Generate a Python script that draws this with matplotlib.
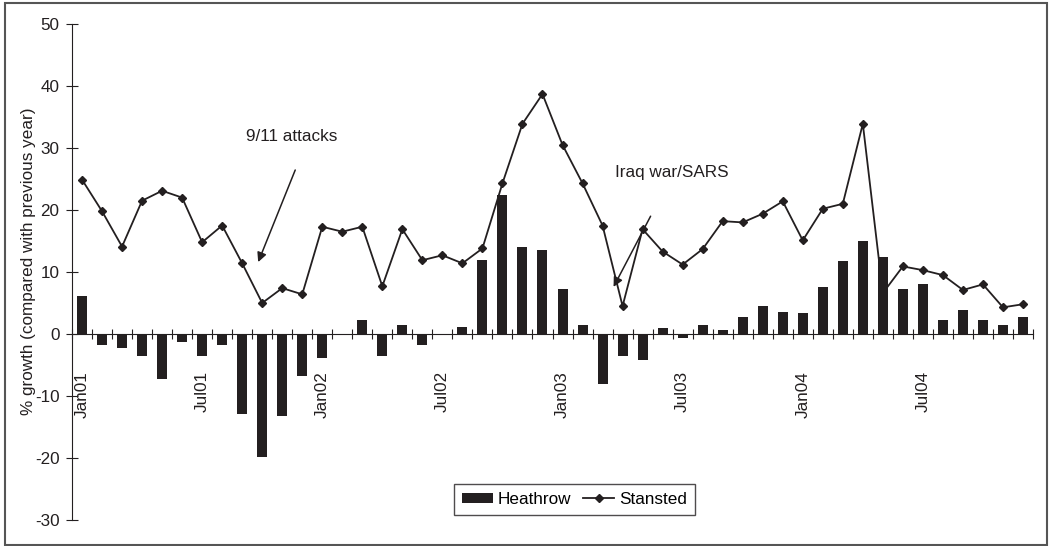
import numpy as np
import matplotlib
matplotlib.use('Agg')
import matplotlib.pyplot as plt
from matplotlib.patches import Rectangle

plt.rcParams['font.family'] = ['Liberation Sans', 'DejaVu Sans']
plt.rcParams['axes.unicode_minus'] = False

# monthly data Jan01 .. Dec04
months = [f'{m}{y:02d}' for y in range(1, 5)
          for m in ['Jan', 'Feb', 'Mar', 'Apr', 'May', 'Jun',
                    'Jul', 'Aug', 'Sep', 'Oct', 'Nov', 'Dec']]

heathrow = [6.1, -1.8, -2.3, -3.5, -7.2, -1.3, -3.5, -1.8, -12.9, -19.9, -13.3, -6.8,
            -3.9, -0.2, 2.3, -3.5, 1.5, -1.8, -0.1, 1.1, 12.0, 22.5, 14.0, 13.6,
            7.2, 1.5, -8.0, -3.6, -4.2, 1.0, -0.6, 1.4, 0.6, 2.7, 4.5, 3.5,
            3.4, 7.6, 11.7, 15.0, 12.5, 7.2, 8.0, 2.2, 3.8, 2.3, 1.4, 2.7]

stansted = [24.9, 19.8, 14.1, 21.5, 23.1, 22.0, 14.8, 17.5, 11.4, 5.0, 7.4, 6.4,
            17.3, 16.5, 17.3, 7.7, 16.9, 11.9, 12.7, 11.4, 13.8, 24.3, 33.9, 38.7,
            30.5, 24.3, 17.5, 4.5, 16.9, 13.3, 11.2, 13.7, 18.2, 18.0, 19.4, 21.4,
            15.1, 20.2, 21.0, 33.9, 6.6, 10.9, 10.3, 9.5, 7.1, 8.0, 4.3, 4.8]

label_months = ['Jan01', 'Jul01', 'Jan02', 'Jul02', 'Jan03', 'Jul03', 'Jan04', 'Jul04']

W, H = 1051, 546
fig = plt.figure(figsize=(W / 100, H / 100), dpi=100)
ax = fig.add_axes([72 / W, 1 - 520 / H, (1033 - 72) / W, (520 - 24) / H])

x = np.arange(len(months))
ink = '#231f20'
bars = ax.bar(x, heathrow, width=0.5, color=ink, label='Heathrow', zorder=3)
line, = ax.plot(x, stansted, color=ink, lw=1.3, marker='D', markersize=4.3,
                label='Stansted', zorder=2)

ax.set_xlim(-0.5, len(months) - 0.5)
ax.set_ylim(-30, 50)
ax.set_yticks(np.arange(-30, 51, 10))

for s in ['top', 'right']:
    ax.spines[s].set_visible(False)
ax.spines['bottom'].set_position(('data', 0))
ax.spines['bottom'].set_color(ink)
ax.spines['left'].set_color(ink)

ax.set_xticks(np.arange(-0.5, len(months), 1.0))
ax.set_xticklabels([])
ax.tick_params(axis='x', which='major', direction='inout', length=7, color=ink)
ax.set_xticks([months.index(m) for m in label_months], label_months, minor=True)
ax.tick_params(axis='x', which='minor', length=0, pad=26.5, labelsize=12.3,
               labelrotation=90, labelcolor=ink)
ax.tick_params(axis='y', direction='inout', length=8, color=ink, pad=5,
               labelsize=12.3, labelcolor=ink)

fig.text(29 / W, 1 - 261 / H, '% growth (compared with previous year)',
         rotation=90, ha='center', va='center', fontsize=12.3, color=ink)

arrow = dict(arrowstyle='-|>', color=ink, lw=1.1, mutation_scale=14,
             shrinkA=0, shrinkB=0)
ax.annotate('', xy=(8.8, 11.6), xytext=(10.65, 26.45), arrowprops=arrow)
ax.text(10.45, 31.8, '9/11 attacks', ha='center', va='center', fontsize=12.3, color=ink)
ax.annotate('', xy=(26.55, 7.6), xytext=(28.4, 19.0), arrowprops=arrow)
ax.text(29.45, 26.0, 'Iraq war/SARS', ha='center', va='center', fontsize=12.3, color=ink)

leg = fig.legend([bars, line], ['Heathrow', 'Stansted'], loc='center',
                 bbox_to_anchor=(574.5 / W, 1 - 499.5 / H), ncol=2,
                 fontsize=12.3, frameon=True, fancybox=False, handlelength=1.8,
                 handleheight=0.55, handletextpad=0.3, columnspacing=0.7,
                 borderpad=0.45, borderaxespad=0)
leg.get_frame().set_edgecolor(ink)
leg.get_frame().set_linewidth(1.0)

fig.patches.append(Rectangle((5 / W, 1 - 545 / H), (1047 - 5) / W, (545 - 3) / H,
                             transform=fig.transFigure, fill=False,
                             edgecolor='#555555', lw=1.5))

fig.savefig('out.png', dpi=100)
